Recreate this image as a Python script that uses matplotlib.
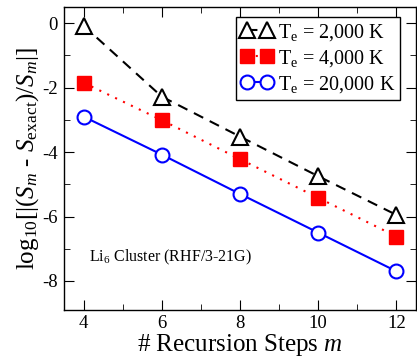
import numpy as np
import matplotlib.pyplot as plt
from matplotlib.ticker import MultipleLocator

steps = [4, 6, 8, 10, 12]
err_2000 = [-0.08, -2.28, -3.52, -4.75, -5.95]
err_4000 = [-1.85, -3.01, -4.22, -5.42, -6.62]
err_20000 = [-2.9, -4.08, -5.3, -6.5, -7.7]
labels = ['T$_\\mathrm{e}$ = 2,000 K', 'T$_\\mathrm{e}$ = 4,000 K', 'T$_\\mathrm{e}$ = 20,000 K']

plt.rcParams['font.family'] = ['Liberation Serif', 'DejaVu Serif']
plt.rcParams['mathtext.fontset'] = 'custom'
plt.rcParams['mathtext.rm'] = 'Liberation Serif'
plt.rcParams['mathtext.it'] = 'Liberation Serif:italic'
plt.rcParams['axes.unicode_minus'] = False

fig = plt.figure(figsize=(4.17, 3.6), dpi=100)
ax = fig.add_axes([64 / 417, 50 / 360, 352 / 417, 303 / 360])

ax.plot(steps, err_2000, color='black', ls=(0, (5, 3.5)), lw=1.5, marker='^', ms=11,
        mfc='white', mec='black', mew=1.5, label=labels[0])
ax.plot(steps, err_4000, color='red', ls=(0, (1, 3.2)), lw=1.5, marker='s', ms=10,
        mfc='red', mec='red', label=labels[1])
ax.plot(steps, err_20000, color='blue', ls='-', lw=1.5, marker='o', ms=10,
        mfc='white', mec='blue', mew=1.5, label=labels[2])

ax.set_xlim(3.5, 12.5)
ax.set_ylim(-8.9, 0.5)
ax.set_xticks(steps)
ax.set_yticks([0, -2, -4, -6, -8])
ax.xaxis.set_minor_locator(MultipleLocator(1))
ax.yaxis.set_minor_locator(MultipleLocator(1))
ax.tick_params(which='both', direction='in', top=True, right=True, labelsize=13.5)
ax.tick_params(which='major', length=7, pad=4.5)
ax.tick_params(axis='x', which='major', pad=3.5)
ax.tick_params(which='minor', length=4)
for s in ax.spines.values():
    s.set_linewidth(1.0)

ax.set_xlabel('# Recursion Steps $m$', fontsize=18, labelpad=0)
ax.set_ylabel('log$_{10}$[|($S_m$ - $S_\\mathrm{exact}$)/$S_m$|]', fontsize=18, labelpad=1)

ax.text(4.15, -7.39, 'Li$_6$ Cluster (RHF/3-21G)', fontsize=11.5)

leg = ax.legend(loc='upper right', bbox_to_anchor=(0.955, 0.967), numpoints=2,
                fontsize=14.5, fancybox=False, framealpha=1, edgecolor='black',
                handlelength=1.6, handletextpad=0.25, borderpad=0.25,
                labelspacing=0.25, borderaxespad=0)
leg.get_frame().set_linewidth(1.0)

fig.savefig('out.png', dpi=100)
